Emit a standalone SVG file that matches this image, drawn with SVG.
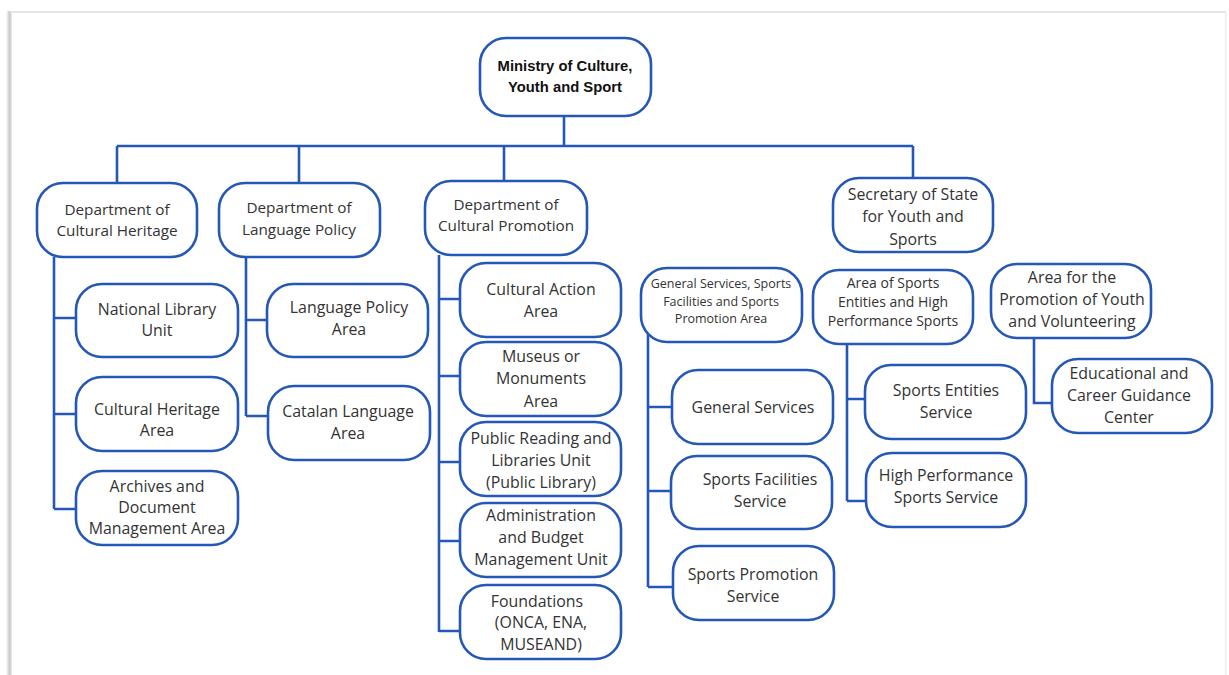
<svg xmlns="http://www.w3.org/2000/svg" width="1229" height="675" viewBox="0 0 1229 675">
<defs>
<linearGradient id="lsh" x1="0" x2="1" y1="0" y2="0"><stop offset="0" stop-color="#fff"/><stop offset="0.6" stop-color="#c8c8c8"/><stop offset="1" stop-color="#eee"/></linearGradient>
<style>
.n rect{fill:#fff;stroke:#2457b8;stroke-width:2.6}
.n text{font-family:"Open Sans","Liberation Sans",sans-serif;font-size:15.9px;fill:#333;text-anchor:middle}
.n text.d{font-size:15.3px}
.n text.s{font-size:12.5px}
.n text.m{font-size:14px}
.n text.b{font-family:"Liberation Sans",Arial,sans-serif;font-weight:bold;font-size:14.8px;fill:#111}
#connectors path{fill:none;stroke:#2457b8;stroke-width:2.6}
</style>
</defs>
<rect x="0" y="0" width="1229" height="675" fill="#fff"/>
<rect x="6" y="11" width="6" height="664" fill="url(#lsh)"/>
<rect x="10" y="11" width="1216" height="2" fill="#e6e6e6"/>
<rect x="1225" y="12" width="1.5" height="663" fill="#eee"/>
<g id="connectors">
<path d="M564 116V146M117 146H913M117 146V183M299 146V183M504 146V181M913 146V178"/>
<path d="M54 257V509M54 318H76M54 414H76M54 509H76"/>
<path d="M246 257V416M246 320H267M246 416H268"/>
<path d="M439 255V632M439 299H460M439 376H460M439 462H460M439 541H460M439 631H460"/>
<path d="M648 330V587M648 407H672M648 491H671M648 587H673"/>
<path d="M847 344V501M847 399H865M847 501H866"/>
<path d="M1034 338V403H1052"/>
</g>
<g id="root" class="n"><rect x="480" y="38" width="171" height="78" rx="26"/><text class="b" x="565" y="71">Ministry of Culture,</text><text class="b" x="565" y="92">Youth and Sport</text></g>
<g id="dept-heritage" class="n"><rect x="37" y="183" width="160" height="74" rx="26"/><text class="d" x="117" y="215">Department of</text><text class="d" x="117" y="236">Cultural Heritage</text></g>
<g id="dept-language" class="n"><rect x="219" y="183" width="161" height="74" rx="26"/><text class="d" x="299" y="213">Department of</text><text class="d" x="299" y="235">Language Policy</text></g>
<g id="dept-promotion" class="n"><rect x="425" y="181" width="162" height="74" rx="26"/><text class="d" x="506" y="210">Department of</text><text class="d" x="506" y="231">Cultural Promotion</text></g>
<g id="secretary" class="n"><rect x="833" y="178" width="160" height="74" rx="26"/><text x="913" y="200">Secretary of State</text><text x="913" y="222">for Youth and</text><text x="913" y="245">Sports</text></g>
<g id="national-library" class="n"><rect x="76" y="284" width="162" height="73" rx="26"/><text x="157" y="315">National Library</text><text x="157" y="336">Unit</text></g>
<g id="heritage-area" class="n"><rect x="76" y="377" width="162" height="74" rx="26"/><text x="157" y="415">Cultural Heritage</text><text x="157" y="436">Area</text></g>
<g id="archives" class="n"><rect x="76" y="471" width="162" height="74" rx="26"/><text x="157" y="492">Archives and</text><text x="157" y="513">Document</text><text x="157" y="534">Management Area</text></g>
<g id="language-area" class="n"><rect x="267" y="284" width="161" height="73" rx="26"/><text x="349" y="313">Language Policy</text><text x="349" y="335">Area</text></g>
<g id="catalan" class="n"><rect x="268" y="386" width="162" height="74" rx="26"/><text x="348" y="417">Catalan Language</text><text x="348" y="439">Area</text></g>
<g id="cultural-action" class="n"><rect x="460" y="263" width="161" height="74" rx="26"/><text x="541" y="295">Cultural Action</text><text x="541" y="317">Area</text></g>
<g id="museus" class="n"><rect x="460" y="342" width="161" height="74" rx="26"/><text x="541" y="362">Museus or</text><text x="541" y="384">Monuments</text><text x="541" y="407">Area</text></g>
<g id="public-reading" class="n"><rect x="460" y="422" width="161" height="74" rx="26"/><text x="541" y="444">Public Reading and</text><text x="541" y="466">Libraries Unit</text><text x="541" y="488">(Public Library)</text></g>
<g id="administration" class="n"><rect x="460" y="503" width="161" height="74" rx="26"/><text x="541" y="521">Administration</text><text x="541" y="543">and Budget</text><text x="541" y="565">Management Unit</text></g>
<g id="foundations" class="n"><rect x="460" y="585" width="161" height="74" rx="26"/><text x="537" y="607">Foundations</text><text x="541" y="628">(ONCA, ENA,</text><text x="541" y="650">MUSEAND)</text></g>
<g id="general-area" class="n"><rect x="641" y="268" width="161" height="74" rx="26"/><text class="s" x="721" y="288">General Services, Sports</text><text class="s" x="721" y="306">Facilities and Sports</text><text class="s" x="721" y="323">Promotion Area</text></g>
<g id="general-services" class="n"><rect x="672" y="370" width="161" height="74" rx="26"/><text x="753" y="413">General Services</text></g>
<g id="sports-facilities" class="n"><rect x="671" y="456" width="161" height="73" rx="26"/><text x="760" y="485">Sports Facilities</text><text x="760" y="507">Service</text></g>
<g id="sports-promotion" class="n"><rect x="673" y="546" width="161" height="74" rx="26"/><text x="753" y="580">Sports Promotion</text><text x="753" y="602">Service</text></g>
<g id="sports-entities-area" class="n"><rect x="813" y="270" width="160" height="74" rx="26"/><text class="m" x="893" y="288">Area of Sports</text><text class="m" x="893" y="307">Entities and High</text><text class="m" x="893" y="326">Performance Sports</text></g>
<g id="youth-area" class="n"><rect x="991" y="264" width="160" height="74" rx="26"/><text x="1072" y="283">Area for the</text><text x="1072" y="305">Promotion of Youth</text><text x="1072" y="327">and Volunteering</text></g>
<g id="sports-entities" class="n"><rect x="865" y="365" width="161" height="74" rx="26"/><text x="946" y="396">Sports Entities</text><text x="946" y="418">Service</text></g>
<g id="high-performance" class="n"><rect x="866" y="453" width="160" height="74" rx="26"/><text x="946" y="481">High Performance</text><text x="946" y="503">Sports Service</text></g>
<g id="educational" class="n"><rect x="1052" y="359" width="160" height="74" rx="26"/><text x="1129" y="379">Educational and</text><text x="1129" y="401">Career Guidance</text><text x="1129" y="423">Center</text></g>
</svg>
